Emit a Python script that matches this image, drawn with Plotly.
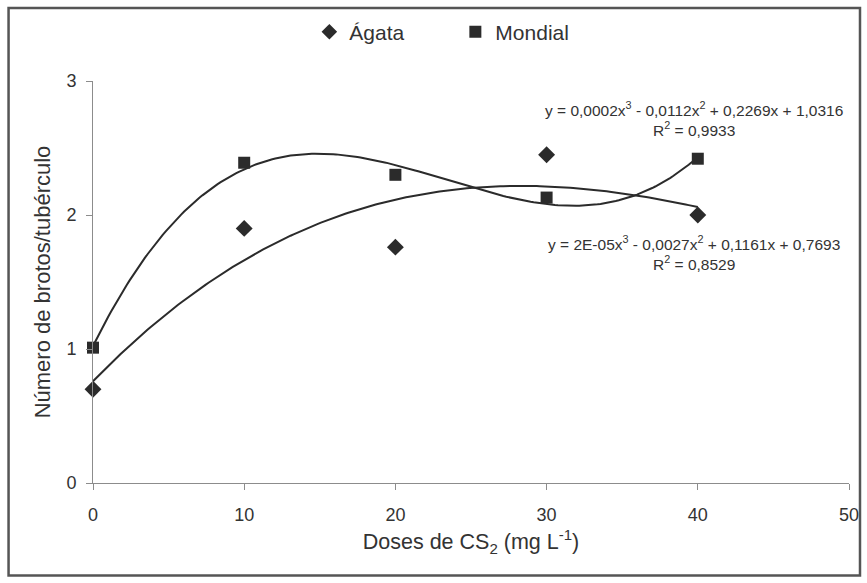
import numpy as np
import plotly.graph_objects as go

doses = [0, 10, 20, 30, 40]
agata = [0.70, 1.90, 1.76, 2.45, 2.00]
mondial = [1.01, 2.39, 2.30, 2.13, 2.42]
x_ticks = [0, 10, 20, 30, 40, 50]
y_ticks = [0, 1, 2, 3]
eq_mondial = "y = 0,0002x<sup>3</sup> - 0,0112x<sup>2</sup> + 0,2269x + 1,0316<br>R<sup>2</sup> = 0,9933"
eq_agata = "y = 2E-05x<sup>3</sup> - 0,0027x<sup>2</sup> + 0,1161x + 0,7693<br>R<sup>2</sup> = 0,8529"

W, H = 867, 583
L, R, T, B = 92.5, 18, 81, 99.5
pw, ph = W - L - R, H - T - B

xs = np.linspace(0, 40, 200)
fit_a = np.polyval(np.polyfit(doses, agata, 3), xs)
fit_m = np.polyval(np.polyfit(doses, mondial, 3), xs)

ink = "#2b2b2b"
fig = go.Figure()
fig.add_trace(go.Scatter(x=xs, y=fit_a, mode="lines", line=dict(color=ink, width=2),
                         showlegend=False, hoverinfo="skip", cliponaxis=False))
fig.add_trace(go.Scatter(x=xs, y=fit_m, mode="lines", line=dict(color=ink, width=2),
                         showlegend=False, hoverinfo="skip", cliponaxis=False))
fig.add_trace(go.Scatter(x=doses, y=agata, mode="markers", name="Ágata", cliponaxis=False,
                         marker=dict(symbol="diamond", size=13, color=ink)))
fig.add_trace(go.Scatter(x=doses, y=mondial, mode="markers", name="Mondial", cliponaxis=False,
                         marker=dict(symbol="square", size=12, color=ink)))

font = "Liberation Sans, Arial, sans-serif"
fig.update_layout(
    width=W, height=H,
    margin=dict(l=L, r=R, t=T, b=B, autoexpand=False),
    paper_bgcolor="white", plot_bgcolor="white",
    font=dict(family=font, color="#333333", size=18),
    showlegend=True,
    legend=dict(orientation="h", x=(309 - L) / pw, xanchor="left",
                y=1 + (T - 32) / ph, yanchor="middle",
                font=dict(size=21, color="#333333"), itemsizing="constant",
                entrywidth=101, tracegroupgap=0, bgcolor="rgba(0,0,0,0)"),
    xaxis=dict(range=[0, 50], tickvals=x_ticks, showgrid=False, zeroline=False,
               showline=True, linecolor="#8c8c8c", linewidth=1,
               ticks="outside", ticklen=6, tickcolor="#8c8c8c",
               tickfont=dict(size=18), ticklabelstandoff=9,
               title=dict(text="Doses de CS<sub>2</sub> (mg L<sup>-1</sup>)", font=dict(size=21.5), standoff=10)),
    yaxis=dict(range=[0, 3], tickvals=y_ticks, showgrid=False, zeroline=False,
               showline=True, linecolor="#8c8c8c", linewidth=1,
               ticks="outside", ticklen=6, tickcolor="#8c8c8c",
               tickfont=dict(size=18), ticklabelstandoff=6,
               title=dict(text="Número de brotos/tubérculo", font=dict(size=22), standoff=9)),
    annotations=[
        dict(x=40, y=2.715, xref="x", yref="y", text=eq_mondial, showarrow=False, xshift=-4,
             font=dict(size=15.5, color="#333333"), align="center", yanchor="middle"),
        dict(x=40, y=1.713, xref="x", yref="y", text=eq_agata, showarrow=False, xshift=-4,
             font=dict(size=15.5, color="#333333"), align="center", yanchor="middle"),
    ],
    shapes=[dict(type="rect", xref="paper", yref="paper",
                 x0=-(L - 8) / pw, x1=1 + (R - 7) / pw, y0=-(B - 7) / ph, y1=1 + (T - 8) / ph,
                 line=dict(color="#555555", width=2.5))],
)
fig.write_html("out.html", config={"displayModeBar": False},
               post_script="document.body.style.margin='0px';document.body.style.padding='0px';")
